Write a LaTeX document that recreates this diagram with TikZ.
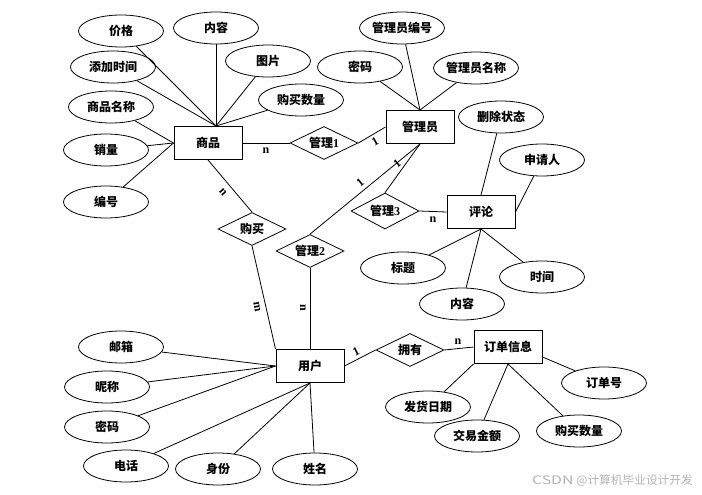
\documentclass[tikz,border=0pt]{standalone}
\usepackage{fontspec}
\usepackage{graphicx}
\setmainfont{Liberation Serif}
\newfontfamily\cjk{Noto Sans CJK SC}
\usetikzlibrary{shapes.geometric}
\begin{document}
\begin{tikzpicture}[x=1pt,y=-1pt,
  lbl/.style={font=\cjk\bfseries\fontsize{12}{12}\selectfont},
  ent/.style={lbl, draw, line width=1pt, rectangle, minimum width=68pt, minimum height=33pt, inner sep=0pt},
  attr/.style={lbl, draw, line width=0.8pt, ellipse, minimum width=85pt, minimum height=32pt, inner sep=0pt},
  rel/.style={lbl, draw, line width=0.8pt, diamond, aspect=2, minimum width=68pt, minimum height=33pt, inner sep=0pt},
  lnk/.style={line width=0.8pt},
  card/.style={font=\bfseries\fontsize{12}{12}\selectfont, inner sep=0pt}]
\useasboundingbox (0,0) rectangle (702,495);
% entities
\node[ent] (sp) at (208,143) {商品};
\node[ent] (gly) at (420,127) {管理员};
\node[ent] (pl) at (481,212) {评论};
\node[ent] (yh) at (310,366) {用户};
\node[ent] (dd) at (508,347) {订单信息};
% relations
\node[rel] (gl1) at (324,143) {管理{\rmfamily 1}};
\node[rel, minimum height=36pt] (gl3) at (385,211) {管理{\rmfamily 3}};
\node[rel] (gm) at (252,229) {购买};
\node[rel] (gl2) at (310,251) {管理{\rmfamily 2}};
\node[rel] (yy) at (410,350) {拥有};
% attributes of 商品
\node[attr] (a1) at (121,31) {价格};
\node[attr] (a2) at (216,28) {内容};
\node[attr] (a3) at (268,61) {图片};
\node[attr] (a4) at (113,67) {添加时间};
\node[attr] (a5) at (301,100) {购买数量};
\node[attr] (a6) at (111,107) {商品名称};
\node[attr] (a7) at (106,150) {销量};
\node[attr] (a8) at (106,202) {编号};
% attributes of 管理员
\node[attr] (b1) at (402,28) {管理员编号};
\node[attr] (b2) at (360,67) {密码};
\node[attr] (b3) at (476,68) {管理员名称};
% attributes of 评论
\node[attr] (c1) at (501,117) {删除状态};
\node[attr] (c2) at (542,160) {申请人};
\node[attr] (c3) at (403,268) {标题};
\node[attr] (c4) at (462,304) {内容};
\node[attr] (c5) at (542,277) {时间};
% attributes of 订单信息
\node[attr] (d1) at (604,383) {订单号};
\node[attr] (d2) at (428,407) {发货日期};
\node[attr] (d3) at (477,436) {交易金额};
\node[attr] (d4) at (579,431) {购买数量};
% attributes of 用户
\node[attr] (e1) at (121,347) {邮箱};
\node[attr] (e2) at (107,387) {昵称};
\node[attr] (e3) at (107,427) {密码};
\node[attr] (e4) at (126,466) {电话};
\node[attr] (e5) at (218,469) {身份};
\node[attr] (e6) at (315,469) {姓名};
% attribute links
\coordinate (spt) at ([xshift=8pt]sp.north);
\foreach \a in {a1,a2,a3,a4,a5} \draw[lnk] (\a) -- (spt);
\foreach \a in {a6,a7,a8} \draw[lnk] (\a) -- (sp.west);
\foreach \a in {b1,b2,b3} \draw[lnk] (\a) -- (gly.north);
\draw[lnk] (c1) -- (pl.north);
\draw[lnk] (c2) -- (pl.east);
\foreach \a in {c3,c4,c5} \draw[lnk] (\a) -- (pl.south);
\coordinate (ddr) at ([yshift=-10pt]dd.east);
\draw[lnk] (d1) -- (ddr);
\draw[lnk] (d2) -- (dd.south west);
\foreach \a in {d3,d4} \draw[lnk] (\a) -- (dd.south);
\foreach \a in {e1,e2,e3} \draw[lnk] (\a) -- (yh.west);
\foreach \a in {e4,e5,e6} \draw[lnk] (\a) -- (yh.south);
% relation links
\draw[lnk] (sp.east) -- (gl1.west);
\draw[lnk] (gl1.east) -- (gly.west);
\draw[lnk] (sp.south) -- (gm.north);
\draw[lnk] (gm.south) -- (yh.north west);
\draw[lnk] (gl2.north) -- (gly.south);
\draw[lnk] (gl2.south) -- (yh.north);
\draw[lnk] (gl3.north) -- (gly.south);
\draw[lnk] (gl3.east) -- (pl.west);
\draw[lnk] (yh.east) -- (yy.west);
\draw[lnk] (yy.east) -- (dd.west);
% cardinalities
\node[card] (k1) at (266,151) {n};
\node[card, rotate=29] (k2) at (375,142) {1};
\node[card, rotate=-50] (k3) at (223,192) {n};
\node[card, rotate=40] (k4) at (397,164) {1};
\node[card, rotate=40] (k5) at (360,183) {1};
\node[card] (k6) at (433,220) {n};
\node[card, rotate=-80] (k7) at (257,307) {m};
\node[card, rotate=-90] (k8) at (303,308) {n};
\node[card, rotate=26] (k9) at (356,352) {1};
\node[card] (k10) at (458,342) {n};
% watermark
\node[font=\cjk\fontsize{11.7}{12}\selectfont, text=black!30, anchor=east, inner sep=0pt] (wm) at (693,481) {\scalebox{1.35}[1]{CSDN}\hspace{3pt}@计算机毕业设计开发};
\end{tikzpicture}
\end{document}
